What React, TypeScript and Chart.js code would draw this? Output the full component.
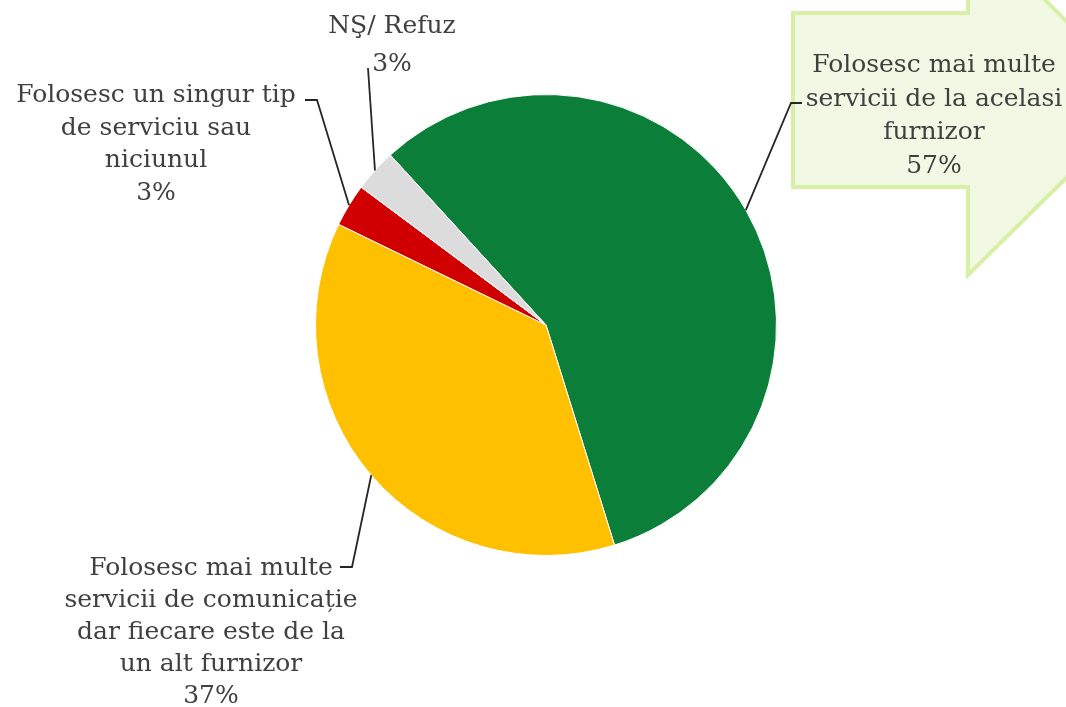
import React, { useEffect, useRef } from "react";
import { Chart, registerables } from "chart.js";

Chart.register(...registerables);

// ---- Data ----
const categories = [
  "Folosesc mai multe servicii de la acelasi furnizor",
  "Folosesc mai multe servicii de comunicație dar fiecare este de la un alt furnizor",
  "Folosesc un singur tip de serviciu sau niciunul",
  "NŞ/ Refuz",
];
const values = [57, 37, 3, 3];
const percentLabels = ["57%", "37%", "3%", "3%"];
const labelTextLines = [
  ["Folosesc mai multe", "servicii de la acelasi", "furnizor"],
  ["Folosesc mai multe", "servicii de comunicație", "dar fiecare este de la", "un alt furnizor"],
  ["Folosesc un singur tip", "de serviciu sau", "niciunul"],
  ["NŞ/ Refuz"],
];
const colors = ["#0B7F3A", "#FFC000", "#D00000", "#DCDCDC"];

// ---- Label layout (positions of annotation text and leader elbows) ----
const labelLayout = [
  { cx: 934, y0: 72, lh: 33.5, elbow: [[791, 103], [802, 103]] },
  { cx: 211, y0: 575, lh: 32, elbow: [[352, 567], [340, 567]] },
  { cx: 156, y0: 102, lh: 32.7, elbow: [[317, 100], [305, 100]] },
  { cx: 392, y0: 33, lh: 38, elbow: [[368, 68]] },
];

const FONT = "25px 'DejaVu Serif', serif";
const TEXT_COLOR = "#404040";

const arrowPlugin = {
  id: "arrowShape",
  beforeDraw(chart: any) {
    const ctx = chart.ctx;
    ctx.save();
    ctx.beginPath();
    ctx.moveTo(793, 13);
    ctx.lineTo(968, 13);
    ctx.lineTo(968, -77);
    ctx.lineTo(1145, 100);
    ctx.lineTo(968, 275);
    ctx.lineTo(968, 187);
    ctx.lineTo(793, 187);
    ctx.closePath();
    ctx.fillStyle = "#F1F9E4";
    ctx.fill();
    ctx.lineWidth = 4;
    ctx.strokeStyle = "#D8EFA6";
    ctx.stroke();
    ctx.restore();
  },
};

const labelPlugin = {
  id: "pieLabels",
  afterDatasetsDraw(chart: any) {
    const ctx = chart.ctx;
    const meta = chart.getDatasetMeta(0);
    ctx.save();
    meta.data.forEach((arc: any, i: number) => {
      const p = arc.getProps(["x", "y", "startAngle", "endAngle", "outerRadius"], true);
      const mid = (p.startAngle + p.endAngle) / 2;
      const ax = p.x + Math.cos(mid) * p.outerRadius;
      const ay = p.y + Math.sin(mid) * p.outerRadius;
      const lay = labelLayout[i];
      ctx.beginPath();
      ctx.moveTo(ax, ay);
      lay.elbow.forEach((pt) => ctx.lineTo(pt[0], pt[1]));
      ctx.strokeStyle = "#262626";
      ctx.lineWidth = 1.8;
      ctx.stroke();

      ctx.font = FONT;
      ctx.fillStyle = TEXT_COLOR;
      ctx.textAlign = "center";
      ctx.textBaseline = "alphabetic";
      const lines = [...labelTextLines[i], percentLabels[i]];
      lines.forEach((t, k) => ctx.fillText(t, lay.cx, lay.y0 + k * lay.lh));
    });
    ctx.restore();
  },
};

export default function App() {
  const ref = useRef<HTMLCanvasElement | null>(null);
  useEffect(() => {
    if (!ref.current) return;
    const chart = new Chart(ref.current, {
      type: "pie",
      data: {
        labels: categories,
        datasets: [
          {
            data: values,
            backgroundColor: colors,
            borderColor: "#FFFFFF",
            borderWidth: 1,
          },
        ],
      },
      options: {
        responsive: false,
        animation: false,
        rotation: -42.5,
        layout: { padding: { left: 315, right: 289, top: 94, bottom: 151 } },
        plugins: {
          legend: { display: false },
          tooltip: { enabled: false },
        },
      },
      plugins: [arrowPlugin, labelPlugin],
    });
    return () => chart.destroy();
  }, []);
  return (
    <div style={{ position: "absolute", left: 0, top: 0, width: 1066, height: 707, background: "#fff" }}>
      <canvas ref={ref} width={1066} height={707} style={{ width: 1066, height: 707, display: "block" }} />
    </div>
  );
}
